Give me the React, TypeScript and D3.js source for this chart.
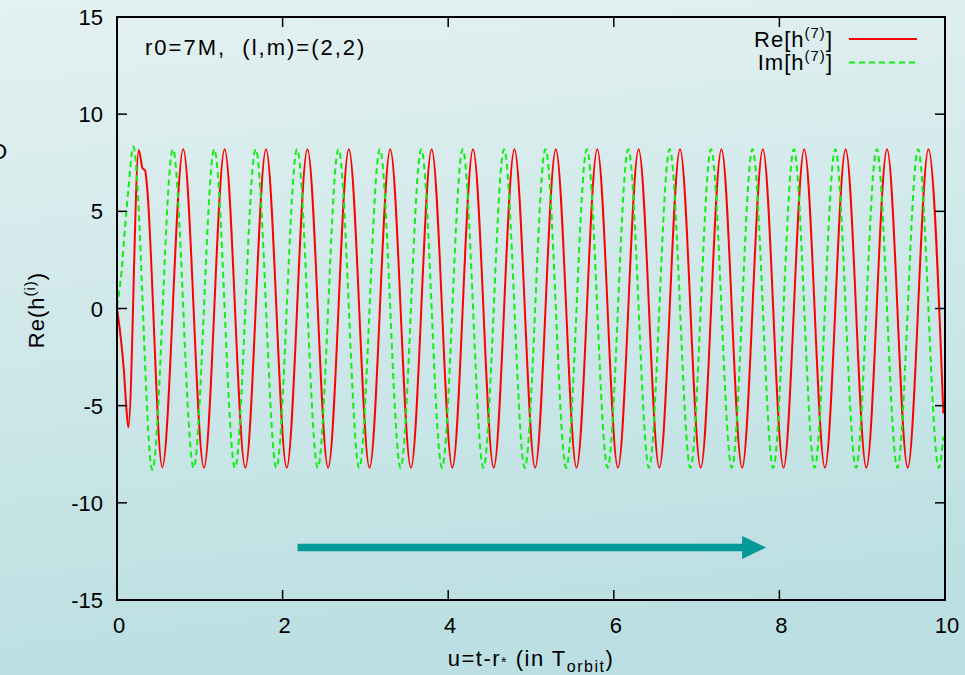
import * as d3 from "d3";
import React from "react";

const W = 965;
const H = 675;
const FONT = "'Liberation Sans', Arial, sans-serif";

// u (in T_orbit), value — start-up transient then extrema
const reH7: [number, number][] = [
  [0, 0], [0.057, -1.97], [0.085, -3.3], [0.109, -4.88], [0.137, -6.11],
  [0.262, 8.16], [0.31, 7.2], [0.34, 7.1], [0.36, 6.4], [0.547, -8.17],
  [0.8, 8.2], [1.05, -8.2], [1.3, 8.2], [1.55, -8.2], [1.8, 8.2],
  [2.05, -8.2], [2.3, 8.2], [2.55, -8.2], [2.8, 8.2], [3.05, -8.2],
  [3.3, 8.2], [3.55, -8.2], [3.8, 8.2], [4.05, -8.2], [4.3, 8.2],
  [4.55, -8.2], [4.8, 8.2], [5.05, -8.2], [5.3, 8.2], [5.55, -8.2],
  [5.8, 8.2], [6.05, -8.2], [6.3, 8.2], [6.55, -8.2], [6.8, 8.2],
  [7.05, -8.2], [7.3, 8.2], [7.55, -8.2], [7.8, 8.2], [8.05, -8.2],
  [8.3, 8.2], [8.55, -8.2], [8.8, 8.2], [9.05, -8.2], [9.3, 8.2],
  [9.55, -8.2], [9.8, 8.2], [9.98, -5.4],
];

const imH7: [number, number][] = [
  [0, 0.1], [0.057, 2.0], [0.097, 4.2], [0.137, 6.1], [0.197, 8.33],
  [0.427, -8.3], [0.675, 8.2], [0.925, -8.2], [1.175, 8.2], [1.425, -8.2],
  [1.675, 8.2], [1.925, -8.2], [2.175, 8.2], [2.425, -8.2], [2.675, 8.2],
  [2.925, -8.2], [3.175, 8.2], [3.425, -8.2], [3.675, 8.2], [3.925, -8.2],
  [4.175, 8.2], [4.425, -8.2], [4.675, 8.2], [4.925, -8.2], [5.175, 8.2],
  [5.425, -8.2], [5.675, 8.2], [5.925, -8.2], [6.175, 8.2], [6.425, -8.2],
  [6.675, 8.2], [6.925, -8.2], [7.175, 8.2], [7.425, -8.2], [7.675, 8.2],
  [7.925, -8.2], [8.175, 8.2], [8.425, -8.2], [8.675, 8.2], [8.925, -8.2],
  [9.175, 8.2], [9.425, -8.2], [9.675, 8.2], [9.925, -8.2], [9.98, -6.6],
];

const xTicks = [0, 2, 4, 6, 8, 10];
const yTicks = [-15, -10, -5, 0, 5, 10, 15];

// arrow annotation (data units)
const arrowFrom = 2.18;
const arrowTo = 7.84;
const arrowAt = -12.3;

export default function App() {
  const x = d3.scaleLinear().domain([0, 10]).range([117, 945]);
  const y = d3.scaleLinear().domain([-15, 15]).range([600, 17]);
  const line = d3
    .line<[number, number]>()
    .x((d) => x(d[0]))
    .y((d) => y(d[1]))
    .curve(d3.curveMonotoneX);

  const [x0, x1] = x.range();
  const [y0, y1] = y.range();
  const ay = y(arrowAt);
  const headBase = x(arrowTo) - 24;

  return (
    <svg
      width={W}
      height={H}
      style={{ position: "fixed", top: 0, left: 0, display: "block" }}
      fontFamily={FONT}
    >
      <defs>
        <linearGradient id="bg" x1="0" y1="0" x2="0.15" y2="1">
          <stop offset="0" stopColor="#e4f1f1" />
          <stop offset="1" stopColor="#bbdfe2" />
        </linearGradient>
        <clipPath id="plot">
          <rect x={x0} y={y1} width={x1 - x0} height={y0 - y1} />
        </clipPath>
      </defs>
      <rect width={W} height={H} fill="url(#bg)" />

      {/* glyph cut by the left edge, as in the source image */}
      <text x={-10} y={159} fontSize={22} fill="#000">O</text>

      {/* curves */}
      <g clipPath="url(#plot)">
        <path d={line(reH7) ?? ""} fill="none" stroke="#ff0000" strokeWidth={2} />
        <path
          d={line(imH7) ?? ""}
          fill="none"
          stroke="#11ee11"
          strokeWidth={2}
          strokeDasharray="6,4"
        />
      </g>

      {/* arrow */}
      <line x1={x(arrowFrom)} x2={headBase + 1} y1={ay} y2={ay} stroke="#039a97" strokeWidth={7.5} />
      <path
        d={`M${headBase},${ay - 11.5}L${x(arrowTo)},${ay}L${headBase},${ay + 11.5}Z`}
        fill="#039a97"
      />

      {/* ticks */}
      <g stroke="#000" strokeWidth={1.5}>
        {xTicks.map((t) => (
          <g key={"xt" + t}>
            <line x1={x(t)} x2={x(t)} y1={y0} y2={y0 - 10} />
            <line x1={x(t)} x2={x(t)} y1={y1} y2={y1 + 10} />
          </g>
        ))}
        {yTicks.map((t) => (
          <g key={"yt" + t}>
            <line x1={x0} x2={x0 + 10} y1={y(t)} y2={y(t)} />
            <line x1={x1} x2={x1 - 10} y1={y(t)} y2={y(t)} />
          </g>
        ))}
      </g>
      <rect x={x0} y={y1} width={x1 - x0} height={y0 - y1} fill="none" stroke="#000" strokeWidth={2} />

      {/* tick labels */}
      <g fontSize={22} fill="#000">
        {xTicks.map((t) => (
          <text key={"xl" + t} x={x(t) + 2} y={633} textAnchor="middle">
            {t}
          </text>
        ))}
        {yTicks.map((t) => (
          <text key={"yl" + t} x={103} y={y(t) + 8} textAnchor="end">
            {t}
          </text>
        ))}
      </g>

      {/* title */}
      <text x={145} y={55} fontSize={22} letterSpacing={2} xmlSpace="preserve">
        r0=7M,  (l,m)=(2,2)
      </text>

      {/* legend */}
      <g fontSize={22} letterSpacing={1}>
        <text x={833} y={47} textAnchor="end">
          Re[h<tspan fontSize={15} dy={-9}>(7)</tspan>
          <tspan dy={9}>]</tspan>
        </text>
        <line x1={849} x2={917} y1={39} y2={39} stroke="#ff0000" strokeWidth={2} />
        <text x={833} y={70} textAnchor="end">
          Im[h<tspan fontSize={15} dy={-9}>(7)</tspan>
          <tspan dy={9}>]</tspan>
        </text>
        <line x1={849} x2={917} y1={62.5} y2={62.5} stroke="#11ee11" strokeWidth={2} strokeDasharray="6,4" />
      </g>

      {/* axis titles */}
      <text x={531} y={666} fontSize={22} textAnchor="middle" letterSpacing={1.5}>
        u=t-r<tspan fontSize={14} dy={1}>*</tspan>
        <tspan dy={-1}> (in T</tspan>
        <tspan fontSize={16} dy={6}>orbit</tspan>
        <tspan dy={-6}>)</tspan>
      </text>
      <text
        transform="translate(44,310) rotate(-90)"
        fontSize={22}
        textAnchor="middle"
        letterSpacing={1}
      >
        Re(h<tspan fontSize={15} dy={-9}>(i)</tspan>
        <tspan dy={9}>)</tspan>
      </text>
    </svg>
  );
}
